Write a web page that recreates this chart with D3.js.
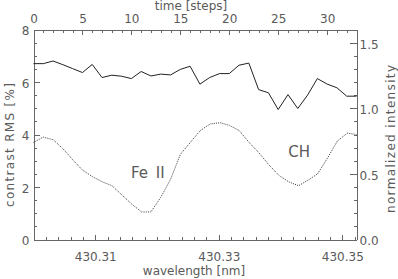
<!DOCTYPE html>
<html>
<head>
<meta charset="utf-8">
<script src="https://cdn.jsdelivr.net/npm/d3@7"></script>
<style>
body { margin: 0; background: #fff; }
text { font-family: "DejaVu Sans", sans-serif; fill: #5a5a5a; }
.axis path, .axis line { stroke: #666; shape-rendering: crispEdges; }
</style>
</head>
<body>
<div id="chart"></div>
<script>
// contrast RMS per time step (solid line, left axis)
var timeSteps = d3.range(0, 34);
var contrastRMS = [6.70, 6.70, 6.80, 6.66, 6.51, 6.36, 6.67, 6.17, 6.26, 6.22,
                   6.13, 6.40, 6.23, 6.30, 6.27, 6.48, 6.60, 5.92, 6.17, 6.32,
                   6.32, 6.64, 6.72, 5.71, 5.59, 4.95, 5.52, 4.99, 5.50, 6.13,
                   5.92, 5.78, 5.46, 5.46];
// line profile (dotted line, right axis)
var wavelength = [430.3000, 430.3016, 430.3032, 430.3048, 430.3063, 430.3079, 430.3095,
                  430.3111, 430.3127, 430.3143, 430.3159, 430.3175, 430.3190, 430.3206,
                  430.3222, 430.3238, 430.3254, 430.3270, 430.3286, 430.3302, 430.3317,
                  430.3333, 430.3349, 430.3365, 430.3381, 430.3397, 430.3413, 430.3429,
                  430.3444, 430.3460, 430.3476, 430.3492, 430.3508, 430.3523];
var intensity = [0.74, 0.78, 0.76, 0.69, 0.61, 0.53, 0.48, 0.44, 0.41, 0.34,
                 0.27, 0.21, 0.21, 0.32, 0.46, 0.65, 0.74, 0.83, 0.88, 0.89,
                 0.87, 0.83, 0.74, 0.66, 0.57, 0.49, 0.44, 0.41, 0.45, 0.50,
                 0.62, 0.75, 0.81, 0.80];
// tick labels
var leftTicks = [0, 2, 4, 6, 8];
var rightTicks = [0.0, 0.5, 1.0, 1.5];
var topTicks = [0, 5, 10, 15, 20, 25, 30];
var bottomTicks = [430.31, 430.33, 430.35];
var lineLabels = [{text: "Fe II", w: 430.3185, v: 0.47}, {text: "CH", w: 430.3430, v: 0.63}];

var width = 398, height = 279;
var plot = { left: 33.5, right: 356.5, top: 29.5, bottom: 239.5 };

var svg = d3.select("#chart").append("svg")
    .attr("width", width)
    .attr("height", height);

var yLeft = d3.scaleLinear().domain([0, 8]).range([plot.bottom, plot.top]);
var yRight = d3.scaleLinear().domain([0, 1.6]).range([plot.bottom, plot.top]);
var xTop = d3.scaleLinear().domain([0, 33]).range([plot.left, plot.right]);
var xBottom = d3.scaleLinear().domain([430.3, 430.3523]).range([plot.left, plot.right]);

// minor ticks first, then the labelled ones
svg.append("g").attr("class", "axis")
    .attr("transform", "translate(" + plot.left + ",0)")
    .call(d3.axisLeft(yLeft).tickValues(d3.range(0, 8.01, 0.5)).tickSizeInner(-3).tickSizeOuter(0).tickFormat(""));
svg.append("g").attr("class", "axis")
    .attr("transform", "translate(" + plot.left + ",0)")
    .call(d3.axisLeft(yLeft).tickValues(leftTicks).tickSizeInner(-6).tickSizeOuter(0).tickPadding(4).tickFormat(d3.format("d")))
    .selectAll("text").attr("dy", "0.45em").style("font-size", "12px");

svg.append("g").attr("class", "axis")
    .attr("transform", "translate(" + plot.right + ",0)")
    .call(d3.axisRight(yRight).tickValues(d3.range(0, 1.61, 0.1)).tickSizeInner(-3).tickSizeOuter(0).tickFormat(""));
svg.append("g").attr("class", "axis")
    .attr("transform", "translate(" + plot.right + ",0)")
    .call(d3.axisRight(yRight).tickValues(rightTicks).tickSizeInner(-7).tickSizeOuter(0).tickPadding(3).tickFormat(d3.format(".1f")))
    .selectAll("text").attr("dy", "0.45em").style("font-size", "12px");

svg.append("g").attr("class", "axis")
    .attr("transform", "translate(0," + plot.top + ")")
    .call(d3.axisTop(xTop).tickValues(timeSteps).tickSizeInner(-3.5).tickSizeOuter(0).tickFormat(""));
svg.append("g").attr("class", "axis")
    .attr("transform", "translate(0," + plot.top + ")")
    .call(d3.axisTop(xTop).tickValues(topTicks).tickSizeInner(-5).tickSizeOuter(0).tickPadding(6.5).tickFormat(d3.format("d")))
    .selectAll("text").style("font-size", "12px");

svg.append("g").attr("class", "axis")
    .attr("transform", "translate(0," + plot.bottom + ")")
    .call(d3.axisBottom(xBottom).tickValues(d3.range(0, 27).map(function(i) { return 430.3 + i * 0.002; }))
      .tickSizeInner(-3).tickSizeOuter(0).tickFormat(""));
svg.append("g").attr("class", "axis")
    .attr("transform", "translate(0," + plot.bottom + ")")
    .call(d3.axisBottom(xBottom).tickValues(bottomTicks).tickSizeInner(-5).tickSizeOuter(0).tickPadding(12.5).tickFormat(d3.format(".2f")))
    .selectAll("text").style("font-size", "12px");

// solid: contrast vs time step
var solid = d3.line()
    .x(function(d, i) { return xTop(timeSteps[i]); })
    .y(function(d) { return yLeft(d); });
svg.append("path")
    .attr("d", solid(contrastRMS))
    .attr("fill", "none")
    .attr("stroke", "#222")
    .attr("stroke-width", 1);

// dotted: intensity vs wavelength
var dotted = d3.line()
    .x(function(d, i) { return xBottom(wavelength[i]); })
    .y(function(d) { return yRight(d); });
svg.append("path")
    .attr("d", dotted(intensity))
    .attr("fill", "none")
    .attr("stroke", "#333")
    .attr("stroke-width", 1)
    .attr("stroke-dasharray", "1,1.2");

svg.selectAll(".linelabel")
    .data(lineLabels)
    .enter().append("text")
    .attr("class", "linelabel")
    .attr("x", function(d) { return xBottom(d.w); })
    .attr("y", function(d) { return yRight(d.v); })
    .attr("text-anchor", "middle")
    .style("font-size", "15px")
    .style("word-spacing", "3px")
    .text(function(d) { return d.text; });

// axis titles
svg.append("text").attr("x", 191).attr("y", 10).attr("text-anchor", "middle")
    .style("font-size", "12px").text("time [steps]");
svg.append("text").attr("x", 194).attr("y", 275).attr("text-anchor", "middle")
    .style("font-size", "12px").text("wavelength [nm]");
svg.append("text").attr("transform", "translate(14,145) rotate(-90)").attr("text-anchor", "middle")
    .attr("textLength", 124).attr("lengthAdjust", "spacing")
    .style("font-size", "12px").text("contrast RMS [%]");
svg.append("text").attr("transform", "translate(395,139) rotate(-90)").attr("text-anchor", "middle")
    .attr("textLength", 148).attr("lengthAdjust", "spacing")
    .style("font-size", "12px").text("normalized intensity");
</script>
</body>
</html>
